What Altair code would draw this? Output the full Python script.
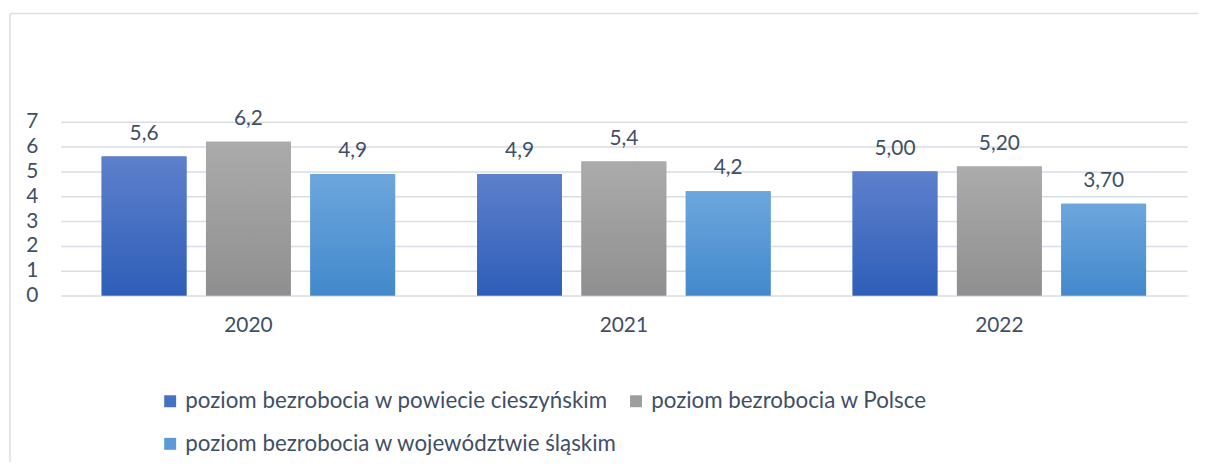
import altair as alt
import pandas as pd

years = ["2020", "2021", "2022"]
series = [
    "poziom bezrobocia w powiecie cieszyńskim",
    "poziom bezrobocia w Polsce",
    "poziom bezrobocia w województwie śląskim",
]
cieszyn = [5.6, 4.9, 5.0]
polska = [6.2, 5.4, 5.2]
slaskie = [4.9, 4.2, 3.7]
labels_cieszyn = ["5,6", "4,9", "5,00"]
labels_polska = ["6,2", "5,4", "5,20"]
labels_slaskie = ["4,9", "4,2", "3,70"]

solid_colors = ["#4470c6", "#9d9d9d", "#5a9ad6"]
grad_stops = [
    ("#5e80cc", "#2e5eb8"),
    ("#ababab", "#8f8f8f"),
    ("#6da6dd", "#4289cc"),
]

# legend is laid out column by column: order items so rows read as in the original
legend_order = [series[0], series[2], series[1]]
legend_colors = [solid_colors[0], solid_colors[2], solid_colors[1]]

rows = []
for s, vals, labs in [
    (series[0], cieszyn, labels_cieszyn),
    (series[1], polska, labels_polska),
    (series[2], slaskie, labels_slaskie),
]:
    for y, v, l in zip(years, vals, labs):
        rows.append({"year": y, "series": s, "value": v, "label": l})
df = pd.DataFrame(rows)

FONT = "Lato"
TXT = "#3f4f66"
GRID = "#d9dde5"

x_enc = alt.X("year:N", sort=years, scale=alt.Scale(paddingInner=0, paddingOuter=0),
              axis=alt.Axis(title=None, labelAngle=0, ticks=False, domain=False, grid=False,
                            labelFontSize=21, labelColor=TXT, labelFont=FONT,
                            labelPadding=19))
xoff_enc = alt.XOffset("series:N", sort=series,
                       scale=alt.Scale(domain=series, paddingInner=0.187, paddingOuter=0.393))
y_enc = alt.Y("value:Q", scale=alt.Scale(domain=[0, 7], nice=False),
              axis=alt.Axis(title=None, values=list(range(8)), ticks=False, domain=False,
                            grid=True, gridColor=GRID, gridWidth=1.5,
                            labelFontSize=21, labelColor=TXT, labelFont=FONT,
                            labelPadding=23))

base = alt.Chart(df)

solid = base.mark_bar().encode(
    x=x_enc, xOffset=xoff_enc, y=y_enc,
    color=alt.Color("series:N",
                    scale=alt.Scale(domain=legend_order, range=legend_colors),
                    legend=alt.Legend(title=None, orient="none", legendX=99, legendY=270,
                                      columns=2, columnPadding=7, rowPadding=20,
                                      symbolType="square", symbolSize=144,
                                      symbolStrokeWidth=0, labelFontSize=22.5,
                                      labelFont=FONT, labelColor=TXT, labelLimit=600,
                                      labelOffset=4, padding=0)),
)

layers = [solid]
for s, (c1, c2) in zip(series, grad_stops):
    g = alt.Gradient(gradient="linear", x1=0, x2=0, y1=0, y2=1,
                     stops=[alt.GradientStop(color=c1, offset=0),
                            alt.GradientStop(color=c2, offset=1)])
    layers.append(
        base.mark_bar(color=g).encode(x=x_enc, xOffset=xoff_enc, y=y_enc)
        .transform_filter(alt.datum.series == s)
    )

text = base.mark_text(dy=-17, baseline="alphabetic", fontSize=21, font=FONT, color=TXT).encode(
    x=x_enc, xOffset=xoff_enc, y=y_enc, text="label:N"
)
layers.append(text)

border_top = alt.Chart(pd.DataFrame({"a": [0]})).mark_rule(color=GRID, strokeWidth=1.5).encode(
    x=alt.value(-51), x2=alt.value(1160), y=alt.value(-109)
)
border_left = alt.Chart(pd.DataFrame({"a": [0]})).mark_rule(color=GRID, strokeWidth=1.5).encode(
    x=alt.value(-51), y=alt.value(-109), y2=alt.value(360)
)
layers = [border_top, border_left] + layers

chart = alt.layer(*layers).properties(
    width=1134, height=175,
    autosize=alt.AutoSizeParams(type="none"),
    padding={"left": 53, "top": 113, "right": 11, "bottom": 166},
).configure(background="white").configure_view(strokeWidth=0)

chart.save("out.html", embed_options={"renderer": "svg", "actions": False})
